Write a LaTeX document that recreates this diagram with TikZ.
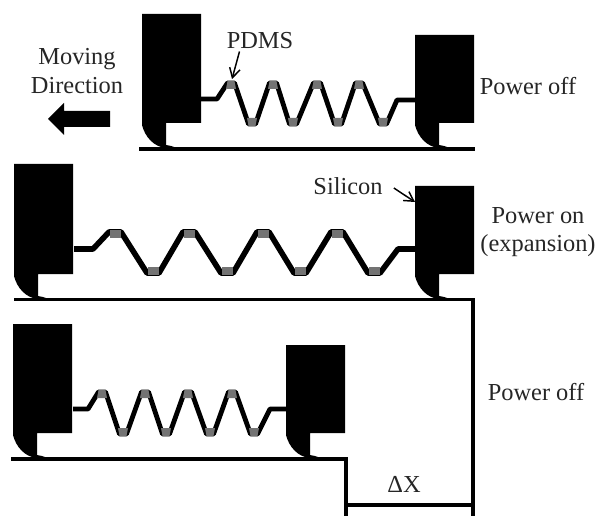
\documentclass[tikz,border=0pt]{standalone}
\usepackage{fontspec}
\setmainfont{Liberation Serif}
\usetikzlibrary{arrows.meta}
\tikzset{
	Beam/.style = {line width = 3.6pt, black, line join = round},
	Ground/.style = {line width = 2.5pt, black},
	Leader/.style = {line width = 1.1pt, -{Straight Barb[length = 7pt, width = 8pt]}},
	Caption/.style = {font = \fontsize{18.3}{21.5}\selectfont, text = black!85, align = center, inner sep = 0pt},
	pics/Actuator/.style = {code = {
		\fill[black] (0,-#1) -- (59,-#1) -- (59,0) -- (24,0) -- (24,22) -- (29,23) -- (35,25) -- (24,25)
			.. controls (12,24) and (3,14) .. (0,2) -- cycle;
	}},
	pics/TopPad/.style = {code = {
		\fill[black!55] (-3.5,-4) -- (3.5,-4) -- (5,4) -- (-5,4) -- cycle;
	}},
	pics/BottomPad/.style = {code = {
		\fill[black!55] (-5,-4) -- (5,-4) -- (3.5,4) -- (-3.5,4) -- cycle;
	}},
}

\begin{document}
\begin{tikzpicture}[x = 0.75pt, y = -0.75pt]
	\useasboundingbox (0,0) rectangle (598,516);

	% upper row
	\pic at (142,123) {Actuator=109};
	\pic at (415,123) {Actuator=88};
	\draw[Beam] (201,99) -- (217,99) \foreach \x/\y in {231/83,252/124,273/83,293/124,317/83,338/124,359/83,383/124}{ -- (\x-3.5,\y) -- (\x+3.5,\y)} -- (397,100) -- (415,100);
	\foreach \x in {231,273,317,359}
		\pic at (\x,85) {TopPad};
	\foreach \x in {252,293,338,383}
		\pic at (\x,122) {BottomPad};
	\draw[Ground] (139,149) -- (475,149);

	% middle row
	\pic at (14,274) {Actuator=110};
	\pic at (415,274) {Actuator=88};
	\draw[Beam, line width = 4.2pt] (74,249) -- (93,249) \foreach \x/\y in {115/232,153/273,189/232,227/273,263/232,300/273,337/232,374/273}{ -- (\x-6,\y) -- (\x+6,\y)} -- (398,249) -- (415,249);
	\foreach \x in {115,189,263,337}
		\fill[black!55] (\x-5.5,230) rectangle (\x+5.5,238);
	\foreach \x in {153,227,300,374}
		\fill[black!55] (\x-5.5,267) rectangle (\x+5.5,275);
	\draw[Ground] (14,299.5) -- (473,299.5) -- (473,516);

	% lower row
	\pic at (13,433) {Actuator=109};
	\pic at (286,433) {Actuator=88};
	\draw[Beam] (73,409) -- (88,409) \foreach \x/\y in {102/392,123/434,145/392,166/434,188/392,210/434,232/392,254/434}{ -- (\x-3.5,\y) -- (\x+3.5,\y)} -- (270,409) -- (286,409);
	\foreach \x in {102,145,188,232}
		\pic at (\x,394) {TopPad};
	\foreach \x in {123,166,210,254}
		\pic at (\x,432) {BottomPad};
	\draw[Ground] (11,459) -- (346,459) -- (346,516);
	\draw[Ground] (346,505) -- (473,505);

	% moving direction arrow
	\fill[black] (48,119) -- (64,103) -- (64,111) -- (110,111) -- (110,127) -- (64,127) -- (64,135) -- cycle;

	% labels
	\node[Caption] (moving) at (77,71) {Moving\\Direction};
	\node[Caption] (pdms) at (260,41) {PDMS};
	\node[Caption] (silicon) at (348,186) {Silicon};
	\node[Caption] (offTop) at (528,86) {Power off};
	\node[Caption] (onMid) at (538,232) {Power on\\(expansion)};
	\node[Caption] (offLow) at (536,392) {Power off};
	\node[Caption] (shift) at (404,484) {ΔX};

	\coordinate (pdmsTip) at (232,79);
	\coordinate (siliconTip) at (415,202);
	\draw[Leader] (pdms.south west) ++(13,2) -- (pdmsTip);
	\draw[Leader] (silicon.east) ++(11,2) -- (siliconTip);
\end{tikzpicture}
\end{document}
